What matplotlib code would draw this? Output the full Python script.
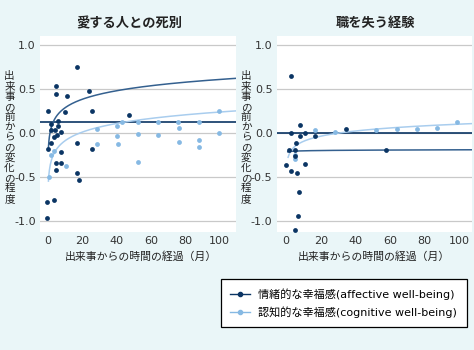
import numpy as np
import matplotlib
matplotlib.use("Agg")
import matplotlib.pyplot as plt
from matplotlib.lines import Line2D

plt.rcParams['font.family'] = ['Noto Sans CJK JP', 'DejaVu Sans']
plt.rcParams['axes.unicode_minus'] = False

# ---------------- data ----------------
titles = ["愛する人との死別", "職を失う経験"]
ylabel = "出来事の前からの変化の程度"
xlabel = "出来事からの時間の経過（月）"
legend_labels = ["情緒的な幸福感(affective well-being)", "認知的な幸福感(cognitive well-being)"]
xticks = [0, 20, 40, 60, 80, 100]
yticks = [-1.0, -0.5, 0.0, 0.5, 1.0]
ytick_labels = ["-1.0", "-0.5", "0.0", "0.5", "1.0"]

# bereavement: affective (dark)
bereave_aff_x = [17, 5, 5, 24, 11, 0, 10, 26, 47, 2, 6, 6, 1.7, 4, 8, 3.5, 5.5,
                 0, 2, 17, 26, 8, 5, 7.5, 5, 17, 18, -0.5, 3.5, -0.5]
bereave_aff_y = [0.75, 0.53, 0.44, 0.48, 0.42, 0.25, 0.24, 0.25, 0.20, 0.10, 0.13, 0.08, 0.03, 0.03, 0.005, -0.05, -0.02,
                 -0.18, -0.12, -0.12, -0.18, -0.22, -0.34, -0.34, -0.42, -0.45, -0.54, -0.79, -0.76, -0.97]
# bereavement: cognitive (light)
bereave_cog_x = [0.5, 1.7, 3.7, 10.5, 28.5, 28.5, 40.3, 40.3, 40.8, 43.2, 52.5, 52.5, 52.5,
                 64.2, 64.2, 75.8, 76.5, 76.5, 88.2, 88.2, 88.2, 99.8, 99.8]
bereave_cog_y = [-0.50, -0.25, -0.21, -0.38, 0.04, -0.13, 0.08, -0.04, -0.125, 0.12, 0.12, -0.01, -0.33,
                 0.125, -0.02, 0.12, 0.05, -0.10, 0.12, -0.075, -0.155, 0.25, -0.005]
# job loss: affective (dark)
job_aff_x = [2.7, 2.7, 8, 8, 11, 16.7, 34.4, 1.5, 5.2, 5.6, 5.2, -0.2, 2.7, 6.2, 11, 7.3, 6.8, 5, 57.5]
job_aff_y = [0.65, 0.0, 0.095, -0.03, 0.0, -0.03, 0.04, -0.19, -0.19, -0.11, -0.26, -0.37, -0.43, -0.45, -0.35,
             -0.67, -0.94, -1.10, -0.19]
# job loss: cognitive (light)
job_cog_x = [16.7, 28.3, 51.7, 63.9, 75.4, 87, 98.5, 5.2, 5.2]
job_cog_y = [0.03, 0.005, 0.03, 0.04, 0.04, 0.06, 0.12, -0.25, -0.30]

# log trend lines y = a + b*ln(x): (a, b, x_start)
bereave_aff_fit = (-0.038, 0.140, 0.4)
bereave_cog_fit = (-0.417, 0.142, 0.4)
job_aff_fit = (-0.215, 0.005, 1.0)
job_cog_fit = (-0.292, 0.085, 1.2)
ref_lines = [0.12, 0.0]

# ---------------- style ----------------
BG = "#eaf6f8"
DARK = "#0b3564"
LIGHT = "#86b9e3"
DARK_FIT = "#34608f"
LIGHT_FIT = "#a9cdee"
GRID = "#c9c9c9"
LATIN = ['DejaVu Sans', 'Noto Sans CJK JP']

fig = plt.figure(figsize=(4.74, 3.5), dpi=100, facecolor=BG)
W, H = 474, 350

def ax_rect(x0, x1, y0, y1):
    return [x0 / W, 1 - y1 / H, (x1 - x0) / W, (y1 - y0) / H]

axes = [fig.add_axes(ax_rect(40, 236, 36, 232)), fig.add_axes(ax_rect(276.7, 471.7, 36, 232))]
xlims = [(-4.5, 109.5), (-5.4, 107.2)]

datasets = [
    (bereave_aff_x, bereave_aff_y, bereave_cog_x, bereave_cog_y, bereave_aff_fit, bereave_cog_fit, 109.5),
    (job_aff_x, job_aff_y, job_cog_x, job_cog_y, job_aff_fit, job_cog_fit, 107.2),
]

for i, ax in enumerate(axes):
    ax.set_facecolor("white")
    ax.set_xlim(*xlims[i])
    ax.set_ylim(-1.125, 1.1)
    for s in ax.spines.values():
        s.set_visible(False)
    ax.set_yticks(yticks)
    ax.set_yticklabels(ytick_labels, fontfamily=LATIN, fontsize=8, color="#333333")
    ax.set_xticks(xticks)
    ax.set_xticklabels([str(t) for t in xticks], fontfamily=LATIN, fontsize=8, color="#333333")
    ax.tick_params(length=0, pad=3)
    for yv in yticks:
        ax.axhline(yv, color=GRID, lw=0.9, zorder=1)
    ax.axhline(ref_lines[i], color=DARK, lw=1.2, zorder=2)

    ax_x, ax_y, cg_x, cg_y, af, cf, xend = datasets[i]
    for (a, b, xs), col in ((cf, LIGHT_FIT), (af, DARK_FIT)):
        xx = np.linspace(xs, xend, 400)
        ax.plot(xx, a + b * np.log(xx), color=col, lw=1.1, zorder=3)
    ax.scatter(cg_x, cg_y, s=12, color=LIGHT, zorder=4, linewidths=0)
    ax.scatter(ax_x, ax_y, s=12, color=DARK, zorder=5, linewidths=0)

# titles
fig.text(129 / W, 1 - 23 / H, titles[0], ha="center", va="center", fontsize=9.5, fontweight="bold", color="#222222")
fig.text(375 / W, 1 - 23 / H, titles[1], ha="center", va="center", fontsize=9.5, fontweight="bold", color="#222222")

# vertical stacked y labels
vlabel = "\n".join(list(ylabel))
for xc in (9.5, 246):
    fig.text(xc / W, 1 - 137.5 / H, vlabel, ha="center", va="center", fontsize=7.6,
             linespacing=1.02, color="#222222")

# x labels
fig.text(141 / W, 1 - 257 / H, xlabel, ha="center", va="center", fontsize=7.8, color="#222222")
fig.text(374 / W, 1 - 257 / H, xlabel, ha="center", va="center", fontsize=7.8, color="#222222")

# legend
handles = [Line2D([], [], color=DARK, marker="o", markersize=3, lw=1),
           Line2D([], [], color=LIGHT, marker="o", markersize=3, lw=1)]
leg = fig.legend(handles, legend_labels, loc="upper left",
                 bbox_to_anchor=(221 / W, 1 - 279 / H), borderaxespad=0,
                 prop={'family': LATIN, 'size': 8}, frameon=True,
                 fancybox=False, edgecolor="black", framealpha=1, handlelength=1.8,
                 handletextpad=0.7, borderpad=0.85, labelspacing=0.55)
leg.get_frame().set_linewidth(0.9)
leg.get_frame().set_facecolor("white")

fig.savefig("out.png", dpi=100, facecolor=BG)
